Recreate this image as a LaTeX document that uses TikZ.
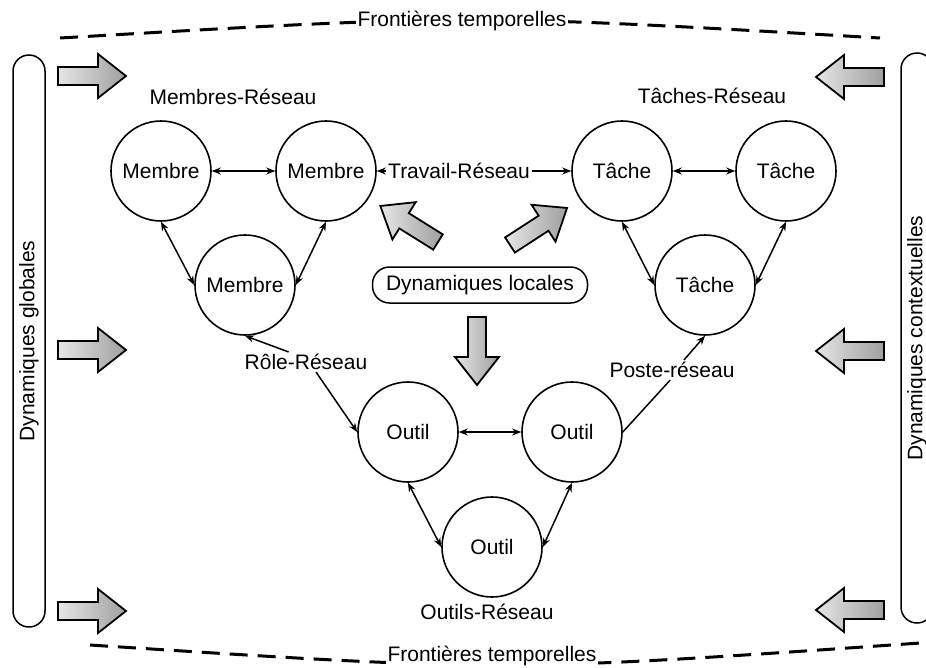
\documentclass[tikz,border=0pt]{standalone}
\usepackage{fontspec}
\setmainfont{Liberation Sans}
\usetikzlibrary{arrows.meta,calc}
\tikzset{
  barrow/.pic={\draw[line width=1.8pt, line join=miter, left color=gray!20, right color=gray!75]
     (0,-9) -- (40,-9) -- (40,-22) -- (68,0) -- (40,22) -- (40,9) -- (0,9) -- cycle;},
}
\begin{document}
\begin{tikzpicture}[x=1pt,y=-1pt,
  font=\fontsize{21}{25}\selectfont,
  circ/.style={draw,circle,minimum size=100pt,inner sep=0pt,line width=1.6pt},
  tipk/.style={line width=1.5pt},
  lnk/.style={tipk,{Stealth[length=9pt,width=7pt]}-{Stealth[length=9pt,width=7pt]}},
  one/.style={tipk,-{Stealth[length=9pt,width=7pt]}},
  sidebox/.style={draw,rounded corners=16pt,line width=1.5pt,rotate=90,minimum height=32pt,inner sep=0pt},
  lbl/.style={inner sep=2pt},
  border/.style={line width=3pt,dash pattern=on 18pt off 10pt},
]
\useasboundingbox (0,0) rectangle (926,667);
\clip (0,0) rectangle (926,667);

% temporal borders
\draw[border] (60,38) .. controls (470,14) .. (880,38);
\draw[border] (90,645) .. controls (505,672) .. (920,643);
\node (ftop) [fill=white,inner sep=1.5pt,minimum height=26pt] at (462,21) {Frontières temporelles};
\node (fbot) [fill=white,inner sep=1.5pt,minimum height=26pt] at (492,656) {Frontières temporelles};

% side boxes
\node (glob) [sidebox,minimum width=572pt] at (29,341) {Dynamiques globales};
\node (ctx) [sidebox,minimum width=570pt] at (917,338) {Dynamiques contextuelles};

% block arrows
\pic at (58,76) {barrow};
\pic at (58,350) {barrow};
\pic at (58,611) {barrow};
\pic[rotate=180] at (884,77) {barrow};
\pic[rotate=180] at (884,351) {barrow};
\pic[rotate=180] at (884,610) {barrow};
\pic[rotate=148] at (438,242) {barrow};
\pic[rotate=33] at (510,245) {barrow};
\pic[rotate=270] at (477,317) {barrow};

% circles
\node (m1) [circ] at (161,171) {Membre};
\node (m2) [circ] at (326,171) {Membre};
\node (m3) [circ] at (245,285) {Membre};
\node (t1) [circ] at (622,171) {Tâche};
\node (t2) [circ] at (786,171) {Tâche};
\node (t3) [circ] at (705,285) {Tâche};
\node (o1) [circ] at (408,432) {Outil};
\node (o2) [circ] at (572,432) {Outil};
\node (o3) [circ] at (492,547) {Outil};

% labels
\node (mr) [lbl] at (233,97) {Membres-Réseau};
\node (tr) [lbl] at (712,96) {Tâches-Réseau};
\node (trav) [lbl] at (459,171) {Travail-Réseau};
\node (role) [lbl] at (306,362) {Rôle-Réseau};
\node (poste) [lbl] at (672,370) {Poste-réseau};
\node (outr) [lbl] at (487,612) {Outils-Réseau};
\node (loc) [draw,rounded corners=17pt,line width=1.5pt,minimum width=215pt,minimum height=36pt] at (480,285) {Dynamiques locales};

% links
\draw[lnk] (m1) -- (m2);
\draw[lnk] (m1.south) -- (m3.west);
\draw[lnk] (m2.south) -- (m3.east);
\draw[lnk] (t1) -- (t2);
\draw[lnk] (t1.south) -- (t3.west);
\draw[lnk] (t2.south) -- (t3.east);
\draw[lnk] (o1) -- (o2);
\draw[lnk] (o1.south) -- (o3.west);
\draw[lnk] (o2.south) -- (o3.east);
\draw[one] (trav) -- (m2);
\draw[one] (trav) -- (t1);
\draw[one] (role.150) -- (m3.south);
\draw[one] (role.-45) -- (o1.west);
\draw[tipk] (o2.east) -- (poste.-100);
\draw[one] (poste.40) -- (t3.south);
\end{tikzpicture}
\end{document}
